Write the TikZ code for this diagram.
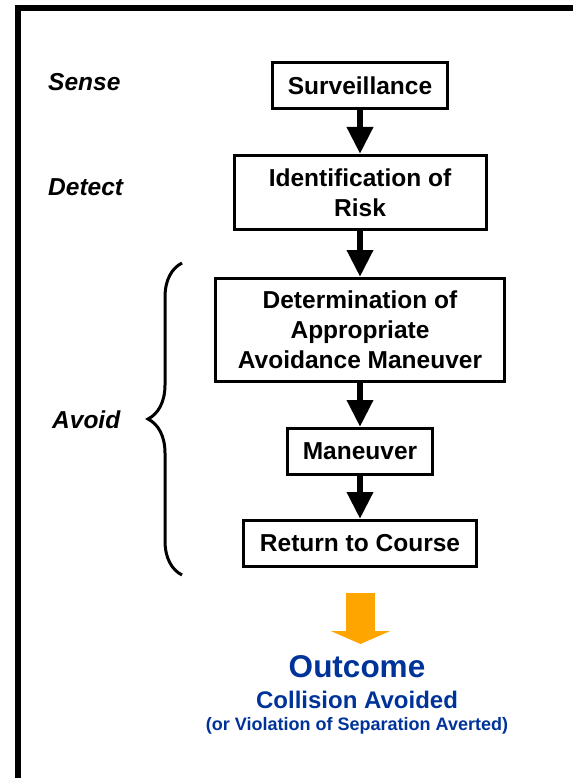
\documentclass[tikz,border=0pt]{standalone}
\usepackage{fontspec}
\setmainfont{Liberation Sans}
\usepackage{tikz}
\tikzset{>=latex}
\usetikzlibrary{arrows.meta}
\usetikzlibrary{decorations.pathreplacing}
\definecolor{outcomeblue}{RGB}{0,51,153}
\definecolor{outcomeorange}{RGB}{255,165,0}
\tikzset{
  stage/.style={draw, line width=3pt, align=center, inner sep=0pt,
    font=\fontsize{24.5}{30}\selectfont\bfseries},
  phase/.style={anchor=west, inner sep=0pt, font=\fontsize{24.5}{30}\selectfont\bfseries\itshape},
  flow/.style={line width=6.5pt, -{Triangle[length=27pt,width=25pt]}},
}

\begin{document}
\begin{tikzpicture}[x=1pt, y=-1pt]
            \useasboundingbox (0,0) rectangle (573,778);
            \draw[line width=6pt] (18,778) -- (18,8) -- (573,8);
            \node[phase] (sense) at (48,82) {Sense};
            \node[phase] (detect) at (48,187) {Detect};
            \node[phase] (avoid) at (52,420) {Avoid};
            \node[stage, minimum width=175pt, minimum height=46pt] (surv) at (360,85.5) {Surveillance};
            \node[stage, minimum width=252pt, minimum height=74pt] (ident) at (360,192.5) {Identification of\\Risk};
            \node[stage, minimum width=289pt, minimum height=103pt] (determ) at (360,330) {Determination of\\Appropriate\\Avoidance Maneuver};
            \node[stage, minimum width=145pt, minimum height=46pt] (maneuver) at (360,451.5) {Maneuver};
            \node[stage, minimum width=233pt, minimum height=46pt] (return) at (360,543.5) {Return to Course};
            \draw[flow] (surv) -- (ident);
            \draw[flow] (ident) -- (determ);
            \draw[flow] (determ) -- (maneuver);
            \draw[flow] (maneuver) -- (return);
            \coordinate (bracelow) at (182,575);
            \coordinate (bracehigh) at (182,263);
            \draw[line width=3pt, decorate, decoration={brace, amplitude=34pt}] (bracelow) -- (bracehigh);
            \coordinate (ostart) at (360.5,593);
            \coordinate (oend) at (360.5,644);
            \draw[outcomeorange, line width=29pt, -{Triangle[length=13pt,width=59pt]}] (ostart) -- (oend);
            \node[text=outcomeblue, font=\fontsize{31.5}{36}\selectfont\bfseries] (outcome) at (357,667) {Outcome};
            \node[text=outcomeblue, font=\fontsize{24}{28}\selectfont\bfseries] (avoided) at (357,700) {Collision Avoided};
            \node[text=outcomeblue, font=\fontsize{18}{22}\selectfont\bfseries] (averted) at (357,726) {(or Violation of Separation Averted)};
        \end{tikzpicture}
\end{document}
